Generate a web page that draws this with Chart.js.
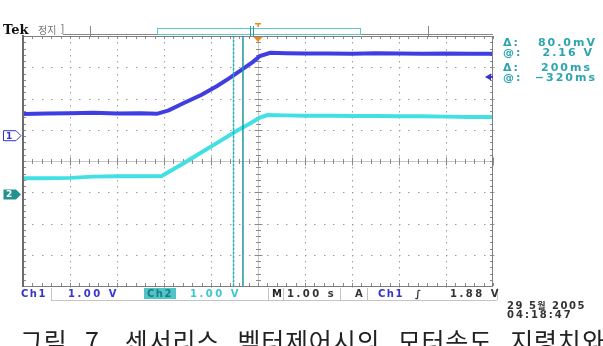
<!DOCTYPE html>
<html><head><meta charset="utf-8">
<script src="https://cdn.jsdelivr.net/npm/chart.js@4/dist/chart.umd.min.js"></script>
<style>
html,body{margin:0;padding:0;background:#fff;width:603px;height:346px;overflow:hidden;}
#wrap{position:relative;width:603px;height:346px;overflow:hidden;}
canvas{position:absolute;left:0;top:0;}
.t{position:absolute;white-space:nowrap;font-family:"DejaVu Sans",sans-serif;font-weight:bold;line-height:10px;font-size:10px;}
.cy{color:#2ea4ae;letter-spacing:2px;font-size:11px;line-height:11px;}
.sb{letter-spacing:2.5px;}
</style></head><body>
<div id="wrap">
<canvas id="c" width="603" height="346"></canvas>
<div class="t" style="left:3px;top:23px;font-family:'DejaVu Serif',serif;font-size:13px;line-height:13px;color:#111;letter-spacing:0px;">Tek</div>
<div class="t" style="left:38px;top:24px;font-family:'Noto Sans CJK KR',sans-serif;font-weight:normal;font-size:10px;line-height:12px;color:#777;">정지</div>
<div class="t" style="left:60px;top:23px;font-weight:normal;font-size:11px;line-height:12px;color:#888;">]</div>

<div class="t cy" style="left:503px;top:37px;">&#916;:</div>
<div class="t cy" style="right:6px;top:37px;">80.0mV</div>
<div class="t cy" style="left:503px;top:47px;">@:</div>
<div class="t cy" style="right:9px;top:47px;">2.16 V</div>
<div class="t cy" style="left:503px;top:62px;">&#916;:</div>
<div class="t cy" style="right:11px;top:62px;">200ms</div>
<div class="t cy" style="left:503px;top:72px;">@:</div>
<div class="t cy" style="right:6px;top:72px;">&#8722;320ms</div>

<div class="t sb" style="left:21px;top:289px;color:#3434c8;letter-spacing:1.5px;">Ch1</div>
<div class="t sb" style="left:68px;top:289px;color:#3636d0;">1.00 V</div>
<div class="t sb" style="left:147px;top:289px;color:#187c84;letter-spacing:1.5px;">Ch2</div>
<div class="t sb" style="left:190px;top:289px;color:#3cc8d0;">1.00 V</div>
<div class="t sb" style="left:272px;top:289px;color:#222;">M</div>
<div class="t sb" style="left:287px;top:289px;color:#333;">1.00 s</div>
<div class="t sb" style="left:355px;top:289px;color:#333;">A</div>
<div class="t sb" style="left:378px;top:289px;color:#3434c8;letter-spacing:1.5px;">Ch1</div>
<div class="t sb" style="left:415px;top:289px;color:#333;font-style:italic;">&#8747;</div>
<div class="t sb" style="left:450px;top:289px;color:#333;">1.88 V</div>

<div class="t" style="left:507px;top:301px;font-size:10px;line-height:10px;color:#333;letter-spacing:1.5px;">29 5<span style="font-family:'Noto Sans CJK KR',sans-serif;font-size:9px;">월</span> 2005</div>
<div class="t" style="left:507px;top:310px;font-size:10px;line-height:10px;color:#333;letter-spacing:2px;">04:18:47</div>

<div class="t" id="g1" style="left:6px;top:130px;font-size:9px;line-height:10px;color:#3434c8;">1</div>
<div class="t" id="g2" style="left:6px;top:189px;font-size:9px;line-height:10px;color:#fff;">2</div>

<div class="t" style="left:20px;top:328px;font-family:'Noto Sans CJK KR',sans-serif;font-weight:normal;font-size:25px;line-height:25px;color:#222;letter-spacing:0.8px;word-spacing:11px;">그림 7. 센서리스 벡터제어시의 모터속도 지령치와</div>
</div>
<script>
// time axis in divisions (1.00 s/div), amplitude in divisions (1.00 V/div)
const xDivs = [-5,-4,-3,-2,-1,0,1,2,3,4,5];
const yDivs = [-4,-3,-2,-1,0,1,2,3,4];
const ch1Time = [-5,-4.5,-4,-3.5,-3,-2.5,-2.15,-1.9,-1.6,-1.2,-0.87,-0.6,-0.32,-0.1,0.04,0.26,0.6,1,1.5,2,2.5,3,3.5,4,4.5,5];
const ch1Level = [1.50,1.52,1.53,1.54,1.52,1.53,1.51,1.62,1.84,2.12,2.40,2.66,2.95,3.18,3.36,3.46,3.45,3.44,3.44,3.43,3.45,3.44,3.43,3.44,3.43,3.43];
const ch2Time = [-5,-4.5,-4,-3.5,-3,-2.5,-2.05,-1.6,-1.2,-0.87,-0.45,-0.17,0.04,0.2,0.6,1,1.5,2,2.5,3,3.5,4,4.5,5];
const ch2Level = [-0.55,-0.55,-0.54,-0.50,-0.49,-0.49,-0.48,-0.09,0.28,0.58,0.97,1.20,1.39,1.47,1.46,1.45,1.45,1.44,1.44,1.43,1.43,1.42,1.41,1.41];
const cursorTimes = [-0.52,-0.32];
const ch1Ground = 0.81, ch2Ground = -1.07, ch1TrigVolts = 1.88, voltsPerDiv = 1.0;

const pts = (xs, ys) => xs.map((x, i) => ({x, y: ys[i]}));
const vline = (t) => [{x:t, y:yDivs[0]}, {x:t, y:yDivs[yDivs.length-1]}];

const scopePlugin = {
  id: 'scope',
  beforeDatasetsDraw(chart) {
    const ctx = chart.ctx, a = chart.chartArea, xs = chart.scales.x, ys = chart.scales.y;
    ctx.save();
    ctx.fillStyle = '#9c9c9c';
    xDivs.forEach(v => {
      if (v === 0 || v === xDivs[0] || v === xDivs[xDivs.length-1]) return;
      const px = Math.round(xs.getPixelForValue(v));
      for (let j = yDivs[0]*5; j <= yDivs[yDivs.length-1]*5; j++) {
        ctx.fillRect(px, Math.round(ys.getPixelForValue(j/5)), 1, 1.5);
      }
    });
    yDivs.forEach(v => {
      if (v === 0 || v === yDivs[0] || v === yDivs[yDivs.length-1]) return;
      const py = Math.round(ys.getPixelForValue(v));
      for (let j = xDivs[0]*5; j <= xDivs[xDivs.length-1]*5; j++) {
        ctx.fillRect(Math.round(xs.getPixelForValue(j/5)), py, 1.5, 1);
      }
    });
    const cx = Math.round(xs.getPixelForValue(0)) + 0.5, cy = Math.round(ys.getPixelForValue(0)) + 0.5;
    ctx.strokeStyle = '#c8c8c8'; ctx.lineWidth = 1;
    ctx.beginPath(); ctx.moveTo(a.left, cy); ctx.lineTo(a.right, cy); ctx.moveTo(cx, a.top); ctx.lineTo(cx, a.bottom); ctx.stroke();
    ctx.strokeStyle = '#8a8a8a';
    ctx.beginPath();
    for (let j = xDivs[0]*5; j <= xDivs[xDivs.length-1]*5; j++) {
      const px = Math.round(xs.getPixelForValue(j/5)) + 0.5;
      const h = (j % 5 === 0) ? 4 : 2.5;
      ctx.moveTo(px, cy - h); ctx.lineTo(px, cy + h);
      ctx.moveTo(px, a.top); ctx.lineTo(px, a.top + 3);
      ctx.moveTo(px, a.bottom); ctx.lineTo(px, a.bottom - 3);
    }
    for (let j = yDivs[0]*5; j <= yDivs[yDivs.length-1]*5; j++) {
      const py = Math.round(ys.getPixelForValue(j/5)) + 0.5;
      const h = (j % 5 === 0) ? 4 : 2.5;
      ctx.moveTo(cx - h, py); ctx.lineTo(cx + h, py);
      ctx.moveTo(a.left, py); ctx.lineTo(a.left + 3, py);
      ctx.moveTo(a.right, py); ctx.lineTo(a.right - 3, py);
    }
    ctx.stroke();
    ctx.restore();
  },
  afterDraw(chart) {
    const ctx = chart.ctx, a = chart.chartArea, xs = chart.scales.x, ys = chart.scales.y;
    ctx.save();
    ctx.strokeStyle = '#7e7e7e'; ctx.lineWidth = 1;
    ctx.strokeRect(a.left + 0.5, a.top + 0.5, a.right - a.left - 1, a.bottom - a.top);
    ctx.lineWidth = 2; ctx.strokeStyle = '#6a6a6a';
    ctx.beginPath(); ctx.moveTo(a.left, a.top - 1); ctx.lineTo(a.left, a.bottom + 1); ctx.stroke();
    ctx.lineWidth = 1; ctx.strokeStyle = '#888';
    ctx.beginPath();
    [90, 428].forEach(x => { ctx.moveTo(x + 0.5, 26); ctx.lineTo(x + 0.5, a.top); });
    ctx.moveTo(63, a.top - 1.5); ctx.lineTo(a.right, a.top - 1.5);
    ctx.stroke();
    ctx.strokeStyle = '#5cc8cc';
    ctx.strokeRect(157.5, 28.5, 203, 6);
    ctx.strokeStyle = '#2a9ea6';
    ctx.beginPath(); ctx.moveTo(250.5, 26); ctx.lineTo(250.5, 36); ctx.moveTo(253.5, 26); ctx.lineTo(253.5, 36); ctx.stroke();
    const tx = xs.getPixelForValue(0);
    ctx.fillStyle = '#f08a1c';
    ctx.beginPath(); ctx.moveTo(tx - 4.5, a.top + 1); ctx.lineTo(tx + 4.5, a.top + 1); ctx.lineTo(tx, a.top + 6); ctx.closePath(); ctx.fill();
    ctx.fillRect(tx - 3, 23, 6, 1.5); ctx.fillRect(tx - 0.5, 23, 1.5, 4);
    const ty = ys.getPixelForValue(ch1Ground + ch1TrigVolts / voltsPerDiv);
    ctx.fillStyle = '#3434c8';
    ctx.beginPath(); ctx.moveTo(a.right - 8, ty); ctx.lineTo(a.right - 2, ty - 3.5); ctx.lineTo(a.right - 2, ty + 3.5); ctx.closePath(); ctx.fill();
    ctx.fillRect(a.right - 3, ty - 1, 3, 2);
    const g1 = ys.getPixelForValue(ch1Ground), g2 = ys.getPixelForValue(ch2Ground);
    const marker = (y) => { ctx.beginPath(); ctx.moveTo(3.5, y - 5); ctx.lineTo(16, y - 5); ctx.lineTo(21, y); ctx.lineTo(16, y + 5); ctx.lineTo(3.5, y + 5); ctx.closePath(); };
    ctx.lineWidth = 1; ctx.strokeStyle = '#3434c8'; marker(g1); ctx.stroke();
    ctx.fillStyle = '#22928f'; marker(g2); ctx.fill();
    ctx.strokeStyle = '#c4c4c4'; ctx.lineWidth = 1;
    ctx.beginPath();
    [51, 268, 283, 340, 367, 497].forEach(x => { ctx.moveTo(x + 0.5, 288); ctx.lineTo(x + 0.5, 300); });
    ctx.moveTo(51, 300.5); ctx.lineTo(497, 300.5);
    ctx.stroke();
    ctx.fillStyle = '#52c4c6'; ctx.fillRect(144, 288, 32, 11);
    ctx.restore();
    document.getElementById('g1').style.top = (g1 - 5) + 'px';
    document.getElementById('g2').style.top = (g2 - 5) + 'px';
  }
};

new Chart(document.getElementById('c'), {
  type: 'line',
  data: {
    datasets: [
      {data: vline(cursorTimes[1]), borderColor: 'rgb(30,148,158)', borderWidth: 1.5},
      {data: vline(cursorTimes[0]), borderColor: 'rgb(40,176,182)', borderWidth: 1.5, borderDash: [2, 2]},
      {data: pts(ch1Time, ch1Level), borderColor: 'rgb(62,62,226)', borderWidth: 4},
      {data: pts(ch2Time, ch2Level), borderColor: 'rgb(66,224,228)', borderWidth: 4}
    ]
  },
  options: {
    responsive: false, animation: false, events: [],
    layout: {padding: {left: 23, right: 110, top: 36, bottom: 60}},
    elements: {point: {radius: 0}, line: {tension: 0, borderCapStyle: 'round'}},
    plugins: {legend: {display: false}, tooltip: {enabled: false}},
    scales: {
      x: {type: 'linear', min: xDivs[0], max: xDivs[xDivs.length-1], display: false},
      y: {type: 'linear', min: yDivs[0], max: yDivs[yDivs.length-1], display: false}
    }
  },
  plugins: [scopePlugin]
});
</script>
</body></html>
